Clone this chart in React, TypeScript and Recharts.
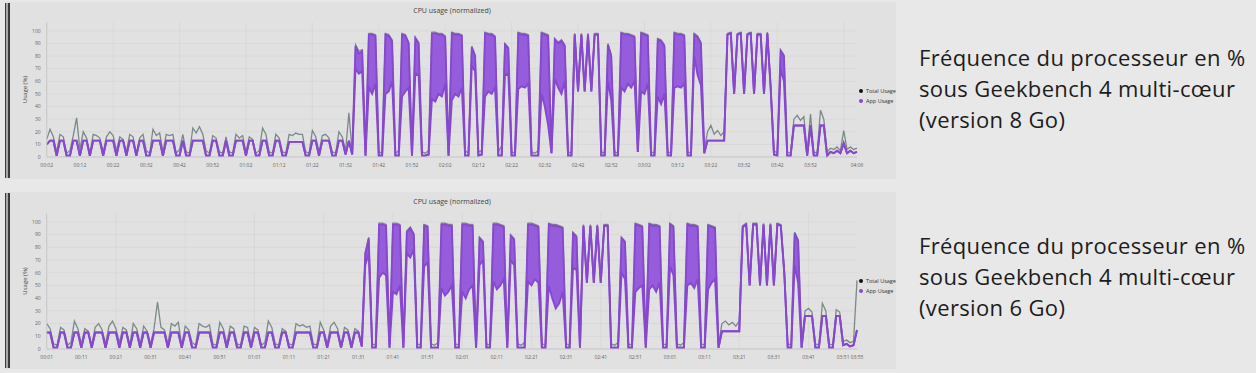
import { ComposedChart, Area, XAxis, YAxis, CartesianGrid, Legend } from "recharts";

// Geekbench 4 multi-core, 8 GB model: one sample per second from 00:02 to 04:06
const topStart = 2;
const topApp = [
  10, 13, 13, 1, 13, 13, 1, 1, 13, 13,
  1, 13, 13, 1, 13, 13, 13, 1, 13, 13,
  13, 1, 13, 13, 1, 13, 13, 1, 13, 13,
  1, 1, 13, 13, 13, 1, 13, 13, 13, 1,
  1, 13, 1, 1, 13, 13, 13, 13, 1, 1,
  13, 13, 1, 1, 13, 1, 1, 13, 13, 13,
  1, 13, 13, 1, 1, 13, 13, 1, 1, 13,
  13, 1, 1, 12, 12, 12, 12, 12, 1, 1,
  13, 13, 1, 13, 13, 13, 1, 1, 13, 13,
  2, 13, 2, 88, 82, 84, 1, 97, 97, 96,
  1, 1, 97, 96, 92, 1, 1, 97, 96, 90,
  1, 94, 90, 1, 1, 2, 98, 98, 97, 97,
  95, 1, 98, 97, 97, 96, 1, 1, 87, 80,
  1, 2, 98, 97, 97, 95, 1, 1, 89, 86,
  1, 1, 98, 97, 97, 96, 1, 1, 1, 98,
  97, 96, 3, 93, 90, 92, 88, 1, 1, 97,
  52, 97, 52, 97, 52, 97, 97, 1, 1, 89,
  80, 1, 1, 98, 97, 97, 96, 95, 4, 98,
  97, 96, 1, 1, 93, 92, 88, 1, 1, 98,
  97, 97, 96, 1, 1, 97, 95, 90, 3, 13,
  13, 13, 13, 13, 13, 97, 98, 50, 97, 98,
  50, 97, 98, 50, 97, 97, 50, 98, 55, 2,
  1, 84, 80, 1, 1, 25, 25, 25, 25, 1,
  25, 1, 1, 25, 25, 1, 4, 3, 5, 3,
  11, 3, 5, 3, 4,
];
// lower edge of the dense oscillation band (0 = no band)
const topDip = [
  0, 0, 0, 0, 0, 0, 0, 0, 0, 0,
  0, 0, 0, 0, 0, 0, 0, 0, 0, 0,
  0, 0, 0, 0, 0, 0, 0, 0, 0, 0,
  0, 0, 0, 0, 0, 0, 0, 0, 0, 0,
  0, 0, 0, 0, 0, 0, 0, 0, 0, 0,
  0, 0, 0, 0, 0, 0, 0, 0, 0, 0,
  0, 0, 0, 0, 0, 0, 0, 0, 0, 0,
  0, 0, 0, 0, 0, 0, 0, 0, 0, 0,
  0, 0, 0, 0, 0, 0, 0, 0, 0, 0,
  0, 0, 0, 70, 66, 68, 0, 55, 50, 58,
  0, 0, 50, 52, 60, 0, 0, 48, 52, 55,
  0, 66, 65, 0, 0, 0, 46, 44, 50, 48,
  58, 0, 45, 50, 48, 55, 0, 0, 72, 68,
  0, 0, 48, 52, 50, 55, 0, 0, 65, 66,
  0, 0, 54, 56, 55, 58, 0, 0, 0, 50,
  40, 25, 0, 62, 55, 50, 60, 0, 0, 0,
  0, 0, 0, 0, 0, 0, 0, 0, 0, 60,
  45, 0, 0, 55, 52, 58, 55, 60, 0, 52,
  50, 58, 0, 0, 48, 42, 50, 0, 0, 55,
  56, 55, 58, 0, 0, 80, 65, 57, 0, 0,
  0, 0, 0, 0, 0, 0, 0, 0, 0, 0,
  0, 0, 0, 0, 0, 0, 0, 0, 0, 0,
  0, 70, 60, 0, 0, 0, 0, 0, 0, 0,
  0, 0, 0, 0, 0, 0, 0, 0, 0, 0,
  0, 0, 0, 0, 0,
];
const topTotal = [
  14, 22, 16, 4, 18, 16, 3, 5, 17, 31,
  6, 20, 15, 3, 18, 17, 15, 4, 16, 20,
  17, 5, 16, 14, 4, 18, 16, 3, 15, 18,
  5, 3, 22, 17, 19, 4, 18, 17, 18, 3,
  6, 18, 4, 3, 23, 19, 24, 18, 5, 3,
  17, 15, 4, 3, 16, 4, 3, 18, 15, 17,
  4, 16, 14, 3, 5, 23, 18, 4, 3, 18,
  15, 4, 3, 18, 17, 19, 18, 18, 4, 3,
  21, 16, 4, 17, 18, 15, 4, 3, 20, 16,
  5, 35, 4, 89, 84, 85, 4, 98, 98, 97,
  4, 3, 98, 97, 93, 3, 5, 98, 97, 91,
  4, 95, 91, 4, 3, 5, 99, 99, 98, 98,
  96, 4, 99, 98, 98, 97, 5, 3, 88, 81,
  4, 5, 99, 98, 98, 96, 4, 9, 90, 87,
  4, 3, 99, 98, 98, 97, 4, 3, 5, 99,
  98, 97, 6, 94, 91, 93, 89, 4, 3, 98,
  53, 98, 53, 98, 53, 98, 98, 4, 3, 90,
  81, 4, 3, 99, 98, 98, 97, 96, 8, 99,
  98, 97, 4, 3, 94, 93, 89, 4, 3, 99,
  98, 98, 97, 4, 3, 98, 96, 91, 6, 20,
  25, 18, 21, 17, 20, 98, 99, 51, 98, 99,
  51, 98, 99, 51, 98, 98, 51, 99, 56, 5,
  3, 85, 81, 4, 3, 30, 33, 29, 32, 4,
  34, 4, 3, 37, 30, 4, 7, 6, 8, 5,
  21, 6, 8, 6, 7,
];
const topTicks = [2, 12, 22, 32, 42, 52, 62, 72, 82, 92, 102, 112, 122, 132, 142, 152, 162, 172, 182, 192, 202, 212, 222, 232, 246];
const topGrid = [2, 22, 42, 62, 82, 102, 122, 142, 162, 182, 202, 222, 242];

// 6 GB model: one sample per second from 00:01 to 03:55
const bottomStart = 1;
const bottomApp = [
  13, 13, 1, 1, 13, 13, 1, 1, 13, 13,
  1, 13, 13, 1, 13, 13, 13, 1, 13, 13,
  13, 1, 13, 13, 1, 13, 13, 1, 13, 13,
  1, 13, 13, 13, 13, 1, 13, 13, 13, 1,
  13, 13, 1, 1, 13, 13, 13, 13, 1, 1,
  13, 13, 1, 13, 13, 1, 1, 13, 13, 1,
  13, 13, 1, 1, 13, 13, 1, 1, 13, 13,
  1, 1, 13, 13, 13, 13, 13, 1, 1, 13,
  13, 1, 13, 13, 13, 1, 13, 13, 1, 13,
  13, 2, 75, 87, 1, 1, 98, 98, 97, 1,
  98, 98, 97, 1, 92, 95, 90, 1, 1, 97,
  96, 1, 1, 1, 98, 98, 97, 97, 1, 1,
  98, 98, 97, 97, 1, 87, 84, 1, 1, 98,
  98, 97, 96, 1, 89, 86, 1, 1, 1, 98,
  98, 97, 96, 1, 1, 98, 97, 97, 96, 95,
  1, 1, 91, 88, 1, 97, 52, 97, 52, 97,
  52, 97, 97, 1, 1, 1, 87, 84, 1, 1,
  98, 97, 96, 1, 98, 97, 97, 96, 1, 1,
  98, 96, 1, 1, 1, 98, 97, 97, 96, 1,
  1, 97, 96, 95, 1, 14, 14, 14, 14, 14,
  14, 96, 98, 50, 98, 98, 50, 98, 50, 98,
  50, 98, 97, 60, 1, 1, 91, 85, 1, 26,
  26, 26, 1, 1, 26, 26, 1, 1, 26, 26,
  3, 4, 2, 3, 15,
];
const bottomDip = [
  0, 0, 0, 0, 0, 0, 0, 0, 0, 0,
  0, 0, 0, 0, 0, 0, 0, 0, 0, 0,
  0, 0, 0, 0, 0, 0, 0, 0, 0, 0,
  0, 0, 0, 0, 0, 0, 0, 0, 0, 0,
  0, 0, 0, 0, 0, 0, 0, 0, 0, 0,
  0, 0, 0, 0, 0, 0, 0, 0, 0, 0,
  0, 0, 0, 0, 0, 0, 0, 0, 0, 0,
  0, 0, 0, 0, 0, 0, 0, 0, 0, 0,
  0, 0, 0, 0, 0, 0, 0, 0, 0, 0,
  0, 0, 66, 75, 0, 0, 56, 60, 58, 0,
  45, 43, 50, 0, 75, 72, 78, 0, 0, 65,
  68, 0, 0, 0, 48, 42, 45, 50, 0, 0,
  45, 40, 47, 50, 0, 66, 70, 0, 0, 53,
  47, 50, 55, 0, 70, 66, 0, 0, 0, 53,
  50, 55, 52, 0, 0, 50, 40, 32, 36, 45,
  0, 0, 64, 62, 0, 0, 0, 0, 0, 0,
  0, 0, 0, 0, 0, 0, 60, 55, 0, 0,
  45, 48, 50, 0, 47, 50, 45, 52, 0, 0,
  65, 58, 0, 0, 0, 50, 52, 48, 55, 0,
  0, 47, 52, 55, 0, 0, 0, 0, 0, 0,
  0, 0, 0, 0, 0, 0, 0, 0, 0, 0,
  0, 0, 0, 0, 0, 0, 66, 52, 0, 0,
  0, 0, 0, 0, 0, 0, 0, 0, 0, 0,
  0, 0, 0, 0, 0,
];
const bottomTotal = [
  20, 16, 4, 3, 17, 15, 3, 5, 22, 16,
  4, 16, 14, 3, 17, 20, 15, 4, 18, 22,
  16, 5, 17, 15, 3, 20, 16, 4, 18, 14,
  4, 16, 37, 17, 15, 4, 20, 18, 21, 3,
  18, 15, 5, 3, 20, 18, 17, 19, 4, 3,
  21, 16, 4, 18, 16, 4, 3, 18, 17, 4,
  17, 15, 3, 5, 22, 17, 4, 3, 16, 14,
  4, 3, 20, 18, 19, 17, 18, 4, 3, 21,
  15, 4, 18, 21, 16, 3, 17, 15, 4, 16,
  14, 5, 76, 88, 4, 3, 99, 99, 98, 4,
  99, 99, 98, 4, 93, 96, 91, 4, 3, 98,
  97, 4, 3, 5, 99, 99, 98, 98, 4, 3,
  99, 99, 98, 98, 4, 88, 85, 4, 3, 99,
  99, 98, 97, 4, 90, 87, 4, 3, 5, 99,
  99, 98, 97, 4, 3, 99, 98, 98, 97, 96,
  4, 3, 92, 89, 4, 98, 53, 98, 53, 98,
  53, 98, 98, 4, 3, 5, 88, 85, 4, 3,
  99, 98, 97, 4, 99, 98, 98, 97, 4, 3,
  99, 97, 4, 3, 5, 99, 98, 98, 97, 4,
  3, 98, 97, 96, 4, 20, 22, 19, 21, 18,
  22, 97, 99, 51, 99, 99, 51, 99, 51, 99,
  51, 99, 98, 61, 4, 3, 92, 86, 4, 30,
  32, 29, 4, 3, 36, 30, 4, 3, 31, 29,
  6, 7, 5, 6, 54,
];
const bottomTicks = [1, 11, 21, 31, 41, 51, 61, 71, 81, 91, 101, 111, 121, 131, 141, 151, 161, 171, 181, 191, 201, 211, 221, 231, 235];
const bottomGrid = [1, 21, 41, 61, 81, 101, 121, 141, 161, 181, 201, 221];

const yTicks = [0, 10, 20, 30, 40, 50, 60, 70, 80, 90, 100];
const captionLines = ["Fréquence du processeur en %", "sous Geekbench 4 multi-cœur"];

const PURPLE = "#8748d0";
const PURPLE_FILL = "#955cdb";
const GRAY = "#7b8a88";
const PANEL = "#e1e1e1";
const FONT = "'Open Sans', sans-serif";

function toRows(start: number, app: number[], dip: number[], total: number[]) {
  return app.map((v, i) => ({ t: start + i, band: [dip[i] || v, v], total: total[i] }));
}

const fmt = (s: number) =>
  `${String(Math.floor(s / 60)).padStart(2, "0")}:${String(s % 60).padStart(2, "0")}`;

const YLabel = (props: any) => {
  const { x, y, height } = props.viewBox;
  const cx = x + 9;
  const cy = y + height / 2;
  return (
    <text x={cx} y={cy} transform={`rotate(-90 ${cx} ${cy})`} textAnchor="middle" dominantBaseline="central" fontSize={6} fill="#444" fontFamily={FONT}>
      Usage (%)
    </text>
  );
};

const LegendBox = () => (
  <div style={{ fontSize: 5.5, lineHeight: "10px", color: "#333", fontFamily: FONT, whiteSpace: "nowrap" }}>
    <div>
      <span style={{ display: "inline-block", width: 4, height: 4, borderRadius: 2, background: "#111", marginRight: 3 }} />
      Total Usage
    </div>
    <div>
      <span style={{ display: "inline-block", width: 4, height: 4, borderRadius: 2, background: PURPLE, marginRight: 3 }} />
      App Usage
    </div>
  </div>
);

interface PanelProps {
  rows: { t: number; band: number[]; total: number }[];
  ticks: number[];
  grid: number[];
  top: number;
  marginTop: number;
  marginBottom: number;
}

function UsagePanel({ rows, ticks, grid, top, marginTop, marginBottom }: PanelProps) {
  return (
    <div style={{ position: "absolute", left: 5, top, width: 891, height: 177, background: PANEL }}>
      <div style={{ position: "absolute", left: 0, top: 1, width: 2, height: 175, borderLeft: "1px solid #3a3a3a", borderRight: "2px solid #3a3a3a", background: "#a8a8a8" }} />
      <div style={{ position: "absolute", left: 0, width: 894, top: marginTop - 16, textAlign: "center", fontSize: 7, color: "#444", fontFamily: FONT }}>
        CPU usage (normalized)
      </div>
      <div style={{ position: "absolute", left: 3, top: 0 }}>
        <ComposedChart width={887} height={177} data={rows} margin={{ top: marginTop, right: 2, bottom: marginBottom, left: 8 }}>
          <CartesianGrid stroke="#d6d6d6" strokeWidth={0.7} verticalValues={grid} horizontalValues={yTicks} />
          <XAxis
            type="number"
            dataKey="t"
            domain={[ticks[0], ticks[ticks.length - 1]]}
            ticks={ticks}
            interval={0}
            tickFormatter={fmt}
            tick={{ fontSize: 5, fill: "#666", fontFamily: FONT }}
            tickLine={false}
            tickSize={4}
            axisLine={{ stroke: "#c9c9c9" }}
            height={16}
          />
          <YAxis
            domain={[0, 107]}
            ticks={yTicks}
            interval={0}
            tick={{ fontSize: 5, fill: "#666", fontFamily: FONT }}
            tickLine={false}
            tickSize={4}
            axisLine={{ stroke: "#c9c9c9" }}
            width={30.7}
            label={<YLabel />}
          />
          <Legend layout="vertical" align="right" verticalAlign="top" content={LegendBox} wrapperStyle={{ top: 84, right: 0, width: 36 }} />
          {/* total drawn as an unfilled area so it stays in the same layer, under the app band */}
          <Area type="linear" dataKey="total" name="Total Usage" stroke={GRAY} strokeWidth={1.3} fill="none" dot={false} activeDot={false} isAnimationActive={false} />
          <Area type="linear" dataKey="band" name="App Usage" stroke={PURPLE} strokeWidth={1.9} fill={PURPLE_FILL} fillOpacity={1} dot={false} activeDot={false} isAnimationActive={false} />
        </ComposedChart>
      </div>
    </div>
  );
}

function Caption({ top, version }: { top: number; version: string }) {
  return (
    <div style={{ position: "absolute", left: 919, top, fontSize: 22, lineHeight: "31px", letterSpacing: "0.35px", color: "#1c1c1c", fontFamily: FONT, whiteSpace: "nowrap" }}>
      {captionLines.map((l) => (
        <div key={l}>{l}</div>
      ))}
      <div>{version}</div>
    </div>
  );
}

export default function App() {
  const topRows = toRows(topStart, topApp, topDip, topTotal);
  const bottomRows = toRows(bottomStart, bottomApp, bottomDip, bottomTotal);
  return (
    <div style={{ position: "absolute", left: 0, top: 0, width: 1256, height: 373, background: "#e8e8e8", overflow: "hidden" }}>
      <UsagePanel rows={topRows} ticks={topTicks} grid={topGrid} top={2} marginTop={20} marginBottom={6} />
      <UsagePanel rows={bottomRows} ticks={bottomTicks} grid={bottomGrid} top={192} marginTop={21} marginBottom={4} />
      <Caption top={42} version="(version 8 Go)" />
      <Caption top={230} version="(version 6 Go)" />
    </div>
  );
}
